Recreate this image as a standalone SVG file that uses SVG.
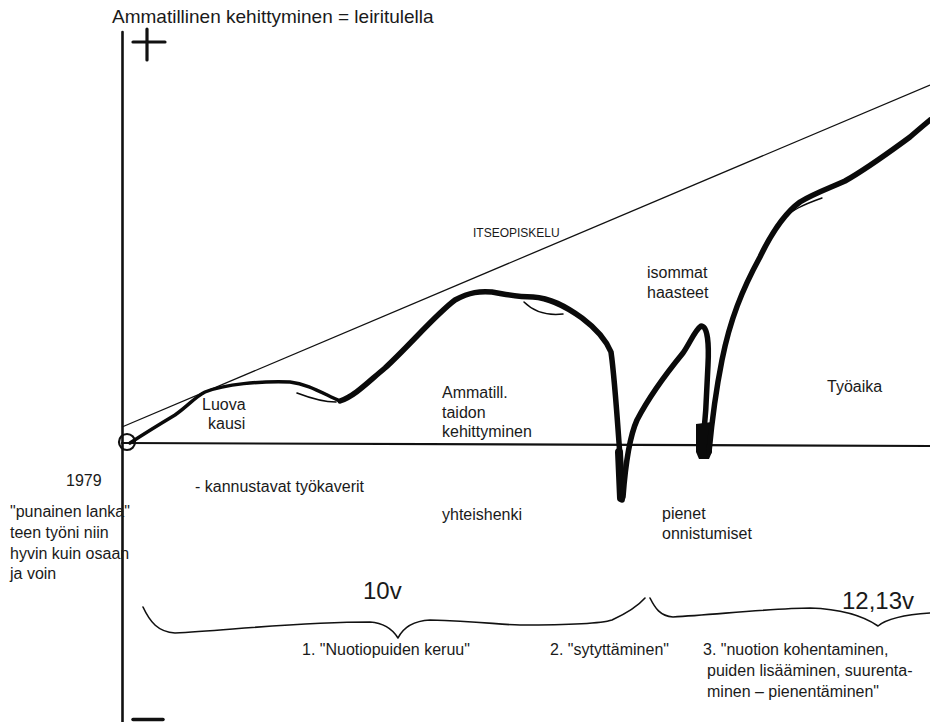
<svg xmlns="http://www.w3.org/2000/svg" width="930" height="722" viewBox="0 0 930 722">
  <style>
    .t { font-family: "Liberation Sans", Arial, Helvetica, sans-serif; font-size: 16px; fill: #1a1a1a; }
    .axis { stroke: #111; stroke-width: 2.6; fill: none; stroke-linecap: round; }
    .thin { stroke: #111; stroke-width: 1.3; fill: none; }
    .brace { stroke: #111; stroke-width: 1.6; fill: none; stroke-linejoin: round; stroke-linecap: round; }
    .pen { stroke: #0a0a0a; fill: none; stroke-linecap: round; stroke-linejoin: round; }
  </style>
  <rect width="930" height="722" fill="#ffffff"/>

  <!-- title -->
  <g id="title">
    <text class="t" x="112" y="23" style="font-size:19px">Ammatillinen kehittyminen = leiritulella</text>
  </g>

  <!-- axes with + and - marks -->
  <g id="axes">
    <line class="axis" x1="122.5" y1="32" x2="122.5" y2="722"/>
    <line class="axis" x1="122" y1="443" x2="930" y2="446" style="stroke-width:2.2"/>
    <line class="axis" x1="133" y1="42" x2="165" y2="42" style="stroke-width:3.2"/>
    <line class="axis" x1="147" y1="29" x2="147" y2="60" style="stroke-width:3.2"/>
    <line class="axis" x1="133" y1="719.5" x2="163" y2="719.5" style="stroke-width:3.5"/>
    <circle cx="127" cy="442" r="8" fill="none" stroke="#111" stroke-width="2.2"/>
  </g>

  <!-- self-study trend line -->
  <g id="trend">
    <line class="thin" x1="122" y1="427" x2="930" y2="85"/>
  </g>

  <!-- hand-drawn development curve -->
  <g id="curve">
    <path class="pen" stroke-width="3.5" d="M130,443 C150,430 160,424 175,415 C188,406 195,397 205,392 C225,384 260,381 290,382 C308,384 322,393 340,401"/>
    <path class="pen" stroke-width="1.6" d="M297,393 C310,398 322,402 336,402"/>
    <path class="pen" stroke-width="5.5" d="M340,401 C355,396 368,382 385,368 C410,345 435,315 455,300 C470,292 480,291 492,292 C505,294 515,297 533,297 C550,298 565,306 582,318 C598,330 606,340 611,352 C615,380 618,430 621,470 L622,500"/>
    <path class="pen" stroke-width="1.5" d="M524,302 C532,310 545,316 563,314"/>
    <path class="pen" stroke-width="8" d="M619,452 L621,498"/>
    <path class="pen" stroke-width="5.5" d="M623,497 C625,470 628,440 637,420 C650,395 665,375 683,353 C690,343 695,330 701,326 C708,326 709,345 708,365 C707,395 705,425 702,455"/>
    <path fill="#0a0a0a" d="M696,424 L712,422 L712,452 L709,459 L699,459 L696,452 Z"/>
    <path class="pen" stroke-width="5.5" d="M709,452 C712,420 716,390 722,360 C730,320 742,290 760,257 C772,232 785,213 800,202 C815,193 830,188 845,181 C868,168 888,153 910,137 C918,130 924,125 930,120"/>
    <path class="pen" stroke-width="1.4" d="M778,224 C790,210 805,204 822,198"/>
  </g>

  <!-- labels on the chart -->
  <g id="label-itseopiskelu"><text class="t" x="473" y="237" style="font-size:12px">ITSEOPISKELU</text></g>
  <g id="label-luova"><text class="t" x="202" y="410">Luova</text><text class="t" x="208" y="429">kausi</text></g>
  <g id="label-ammatill"><text class="t" x="442" y="398">Ammatill.</text><text class="t" x="442" y="418">taidon</text><text class="t" x="442" y="437">kehittyminen</text></g>
  <g id="label-isommat"><text class="t" x="647" y="278">isommat</text><text class="t" x="647" y="298">haasteet</text></g>
  <g id="label-tyoaika"><text class="t" x="827" y="392">Työaika</text></g>
  <g id="label-1979"><text class="t" x="66" y="486">1979</text></g>
  <g id="label-lanka">
    <text class="t" x="10" y="517">"punainen lanka"</text>
    <text class="t" x="10" y="538">teen työni niin</text>
    <text class="t" x="10" y="559">hyvin kuin osaan</text>
    <text class="t" x="10" y="579">ja voin</text>
  </g>
  <g id="label-kannustavat"><text class="t" x="195" y="492">- kannustavat työkaverit</text></g>
  <g id="label-yhteishenki"><text class="t" x="442" y="520">yhteishenki</text></g>
  <g id="label-pienet"><text class="t" x="662" y="519">pienet</text><text class="t" x="662" y="539">onnistumiset</text></g>

  <!-- time brace -->
  <g id="brace">
    <path class="brace" d="M143,607 C150,622 158,632 175,633 C230,630 300,622 370,622 C385,623 393,630 398,638 C403,628 412,621 430,620 C480,621 500,625 520,625 C570,625 600,624 612,620 C625,614 638,606 645,598"/>
    <path class="brace" d="M650,598 C655,608 660,616 673,617 C720,614 780,608 810,608 C840,609 862,615 878,626 C885,620 900,615 930,613"/>
  </g>
  <g id="label-10v"><text class="t" x="363" y="599" style="font-size:24px">10v</text></g>
  <g id="label-1213v"><text class="t" x="842" y="609" style="font-size:24px">12,13v</text></g>
  <g id="phase-1"><text class="t" x="302" y="655">1. "Nuotiopuiden keruu"</text></g>
  <g id="phase-2"><text class="t" x="550" y="655">2. "sytyttäminen"</text></g>
  <g id="phase-3">
    <text class="t" x="703" y="655">3. "nuotion kohentaminen,</text>
    <text class="t" x="707" y="676">puiden lisääminen, suurenta-</text>
    <text class="t" x="707" y="697">minen – pienentäminen"</text>
  </g>
</svg>
